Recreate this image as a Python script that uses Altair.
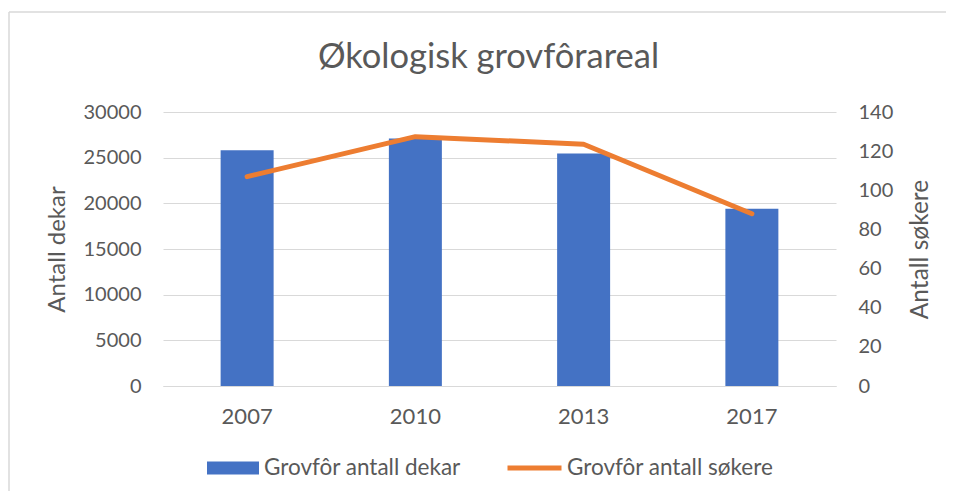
import altair as alt
import pandas as pd

years = ["2007", "2010", "2013", "2017"]
dekar = [25800, 27100, 25450, 19400]
sokere = [107, 127.4, 123.5, 88]
series_bar = "Grovfôr antall dekar"
series_line = "Grovfôr antall søkere"
left_ticks = [0, 5000, 10000, 15000, 20000, 25000, 30000]
right_ticks = [0, 20, 40, 60, 80, 100, 120, 140]

df = pd.DataFrame({
    "year": years,
    "dekar": dekar,
    "sokere": sokere,
    "s1": [series_bar] * len(years),
    "s2": [series_line] * len(years),
})

FONT = "Lato"
GREY = "#595959"
GRID = "#d9d9d9"
W, H = 673, 274

x_enc = alt.X(
    "year:N", sort=years, title=None,
    scale=alt.Scale(paddingInner=0.685, paddingOuter=0.3425),
    axis=alt.Axis(labelAngle=0, labelFontSize=22, labelColor=GREY, labelFont=FONT,
                  labelPadding=20, ticks=False, tickSize=0, domainColor=GRID,
                  domainWidth=1, grid=False),
)

bars = alt.Chart(df).mark_bar().encode(
    x=x_enc,
    y=alt.Y("dekar:Q", scale=alt.Scale(domain=[0, 30000], nice=False),
            axis=alt.Axis(values=left_ticks, format="d", orient="left", title="Antall dekar",
                          grid=True, gridColor=GRID, gridWidth=1, domain=False,
                          ticks=False, tickSize=0, labelPadding=22, labelFontSize=20,
                          labelFont=FONT, labelColor=GREY,
                          titleX=-106, titleY=H / 2, titleAngle=270,
                          titleBaseline="middle", titleAlign="center",
                          titleFontSize=24, titleFont=FONT, titleColor=GREY,
                          titleFontWeight="normal")),
    color=alt.Color("s1:N", scale=alt.Scale(range=["#4472C4"]),
                    legend=alt.Legend(title=None, orient="none", legendX=43, legendY=329,
                                      symbolType="M-1,-0.25H1V0.25H-1Z", symbolSize=2704,
                                      symbolOpacity=1, labelFontSize=22.5, labelFont=FONT,
                                      labelColor=GREY, labelOffset=4, labelLimit=400,
                                      padding=0)),
)

line = alt.Chart(df).mark_line(strokeWidth=5, strokeCap="round", strokeJoin="round").encode(
    x=x_enc,
    y=alt.Y("sokere:Q", scale=alt.Scale(domain=[0, 140], nice=False),
            axis=alt.Axis(values=right_ticks, format="d", orient="right", title="Antall søkere",
                          grid=False, domain=False, ticks=False, tickSize=0,
                          labelPadding=22, labelFontSize=20, labelFont=FONT,
                          labelColor=GREY,
                          titleX=84, titleY=H / 2, titleAngle=270,
                          titleBaseline="middle", titleAlign="center",
                          titleFontSize=24.5, titleFont=FONT, titleColor=GREY,
                          titleFontWeight="normal")),
    color=alt.Color("s2:N", scale=alt.Scale(range=["#ED7D31"]),
                    legend=alt.Legend(title=None, orient="none", legendX=342, legendY=326.5,
                                      symbolType="stroke", symbolSize=2916,
                                      symbolStrokeWidth=5, labelFontSize=22.5,
                                      labelFont=FONT, labelColor=GREY, labelOffset=3,
                                      labelLimit=400, padding=0)),
)

frame = pd.DataFrame({"k": [0]})
top_border = alt.Chart(frame).mark_rule(color=GRID, strokeWidth=1.5).encode(
    x=alt.value(-154), x2=alt.value(783), y=alt.value(-100))
left_border = alt.Chart(frame).mark_rule(color=GRID, strokeWidth=1.5).encode(
    x=alt.value(-154), y=alt.value(-100), y2=alt.value(379))

chart = alt.layer(top_border, left_border, bars, line).resolve_scale(
    y="independent", color="independent"
).properties(
    width=W, height=H,
    autosize=alt.AutoSizeParams(type="none"),
    padding={"left": 155, "top": 104, "right": 110, "bottom": 105},
    title=alt.TitleParams("Økologisk grovfôrareal", fontSize=34.5, font=FONT, color=GREY,
                          fontWeight="normal", anchor="middle", offset=-64, dx=-11),
).configure_view(stroke=None)

chart.save("out.html", embed_options={"renderer": "svg", "actions": False})
